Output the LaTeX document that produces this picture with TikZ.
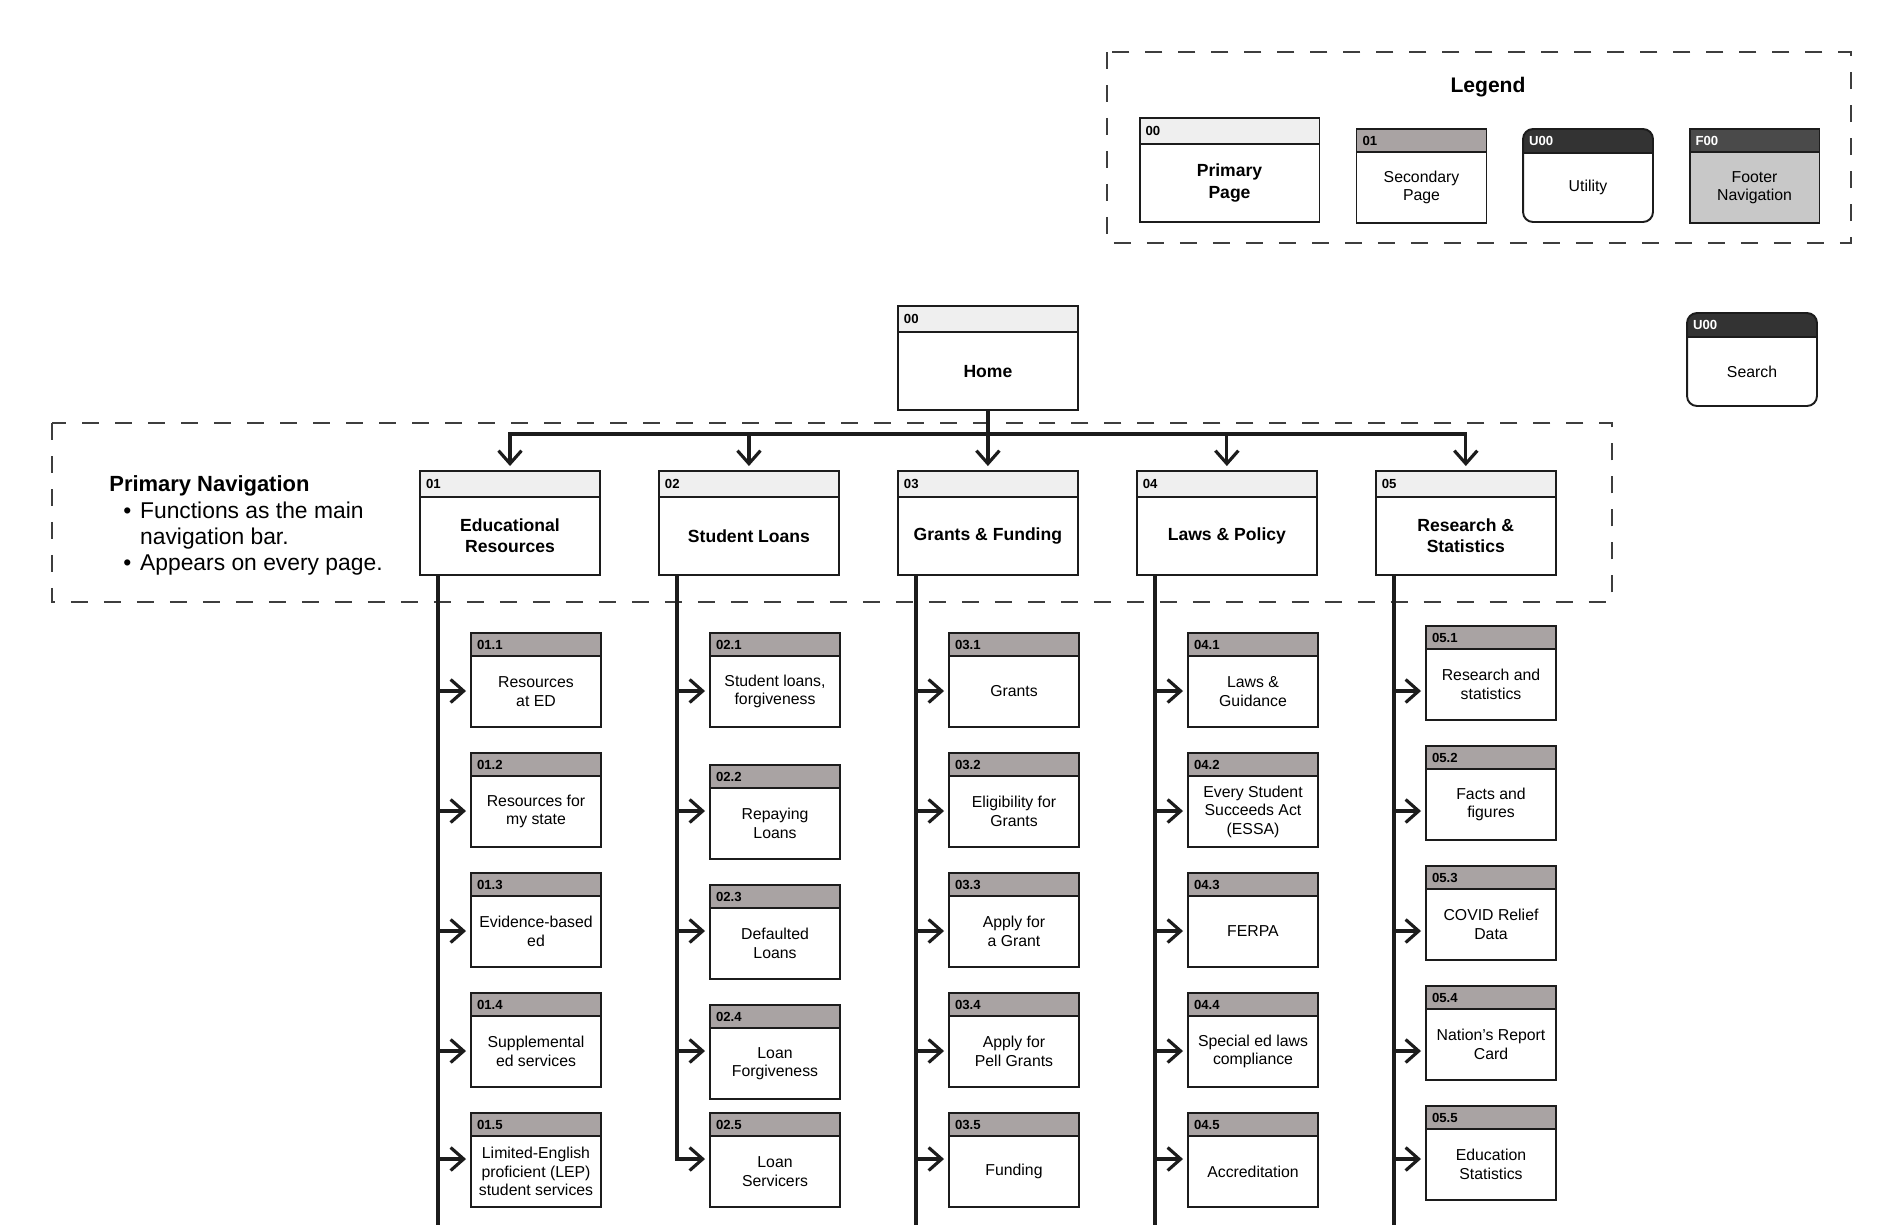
\documentclass[tikz,border=0pt]{standalone}
\usepackage{fontspec}
\setmainfont{Liberation Sans}
\usepackage{xcolor}
\usetikzlibrary{arrows.meta, positioning, backgrounds}

\definecolor{ink}{HTML}{1C1C1C}
\definecolor{hdrlight}{HTML}{EFEFEF}
\definecolor{hdrgray}{HTML}{A9A3A3}
\definecolor{hdrdark}{HTML}{333333}
\definecolor{footdark}{HTML}{4A4A4A}
\definecolor{footfill}{HTML}{C8C8C8}

\begin{document}
\begin{tikzpicture}[
    x=0.02cm, y=-0.02cm,
    primbox/.style={rectangle, draw=ink, fill=white, line width=1.1pt, outer sep=0pt, minimum width=3.6cm, minimum height=1.56cm, inner sep=2pt, align=center, font=\fontsize{10}{12}\selectfont\bfseries},
    primhdr/.style={rectangle, draw=ink, fill=hdrlight, line width=1.1pt, outer sep=0pt, minimum width=3.6cm, minimum height=0.52cm, inner xsep=0.12cm, inner ysep=0pt, text width=3.36cm, align=left, font=\fontsize{7.5}{9}\selectfont\bfseries},
    secbox/.style={rectangle, draw=ink, fill=white, line width=1.1pt, outer sep=0pt, minimum width=2.6cm, minimum height=1.42cm, inner sep=2pt, align=center, font=\fontsize{9}{10.5}\selectfont},
    sechdr/.style={primhdr, fill=hdrgray, minimum width=2.6cm, minimum height=0.46cm, text width=2.36cm},
    utilbody/.style={secbox, draw=none, minimum height=1.38cm},
    utilhdr/.style={sechdr, draw=none, fill=hdrdark, text=white, minimum height=0.48cm, rounded corners=0.2cm},
    utilline/.style={draw=ink, line width=1.1pt, rounded corners=0.2cm},
    footbox/.style={secbox, fill=footfill},
    foothdr/.style={sechdr, fill=footdark, text=white},
    conn/.style={draw=ink, line width=1.8pt},
    arr/.style={conn, -{Straight Barb[length=2.6mm, width=4.6mm]}, shorten >=0.1cm},
    frame/.style={draw=ink!85, line width=0.8pt, dash pattern=on 0.34cm off 0.32cm},
    legtitle/.style={font=\fontsize{12}{14}\selectfont\bfseries},
    navtitle/.style={inner sep=0pt, font=\fontsize{12.5}{15}\selectfont\bfseries},
    navtext/.style={inner sep=0pt, align=left, font=\fontsize{13}{14.6}\selectfont},
]
\useasboundingbox (0,0) rectangle (1899,1225);

% Legend
\draw[frame] (1107,52) rectangle (1851,243);
\node[legtitle] (legt) at (1488,87) {Legend};
\node[primbox] (lg-prim) at (1229.5,183) {Primary\\Page};
\node[primhdr, above=0pt of lg-prim] (lg-prim-h) {00};
\node[secbox] (lg-sec) at (1421.5,187.5) {Secondary\\Page};
\node[sechdr, above=0pt of lg-sec] (lg-sec-h) {01};
\node[utilbody] (lg-util) at (1588,187.5) {Utility};
\node[utilhdr, above=0pt of lg-util] (lg-util-h) {U00};
\draw[utilline] (lg-util-h.north west) rectangle (lg-util.south east);
\draw[ink, line width=1.1pt] (lg-util-h.south west) -- (lg-util-h.south east);
\node[footbox] (lg-foot) at (1754.5,187.5) {Footer\\Navigation};
\node[foothdr, above=0pt of lg-foot] (lg-foot-h) {F00};

% Search (utility)
\node[utilbody] (srch) at (1752,371.5) {Search};
\node[utilhdr, above=0pt of srch] (srch-h) {U00};
\draw[utilline] (srch-h.north west) rectangle (srch.south east);
\draw[ink, line width=1.1pt] (srch-h.south west) -- (srch-h.south east);

% square off the lower corners of the rounded headers
\begin{scope}[on background layer]
  \fill[hdrdark] (lg-util-h.west) rectangle (lg-util-h.south east);
  \fill[hdrdark] (srch-h.west) rectangle (srch-h.south east);
\end{scope}

% Primary navigation
\draw[frame] (52,423) rectangle (1612,602);
\node[navtitle, anchor=west] (navt) at (109,486) {Primary Navigation};
\node[navtext, anchor=north west] (navl) at (123,502) {\textbullet\hspace{5pt}Functions as the main\\\phantom{\textbullet}\hspace{5pt}navigation bar.\\\textbullet\hspace{5pt}Appears on every page.};

\node[primbox] (edu) at (510,536) {Educational\\Resources};
\node[primbox, right=1.18cm of edu] (sl) {Student Loans};
\node[primbox, right=1.18cm of sl] (gf) {Grants \& Funding};
\node[primbox, right=1.18cm of gf] (lp) {Laws \& Policy};
\node[primbox, right=1.18cm of lp] (rs) {Research \&\\Statistics};
\node[primhdr, above=0pt of edu] (edu-h) {01};
\node[primhdr, above=0pt of sl] (sl-h) {02};
\node[primhdr, above=0pt of gf] (gf-h) {03};
\node[primhdr, above=0pt of lp] (lp-h) {04};
\node[primhdr, above=0pt of rs] (rs-h) {05};

% Home
\node[primbox, above=1.22cm of gf-h] (home) {Home};
\node[primhdr, above=0pt of home] (home-h) {00};

% 01 Educational Resources
\node[secbox] (edu1) at (536,691.5) {Resources\\at ED};
\node[sechdr, above=0pt of edu1] (edu1-h) {01.1};
\node[secbox] (edu2) at (536,811.5) {Resources for\\my state};
\node[sechdr, above=0pt of edu2] (edu2-h) {01.2};
\node[secbox] (edu3) at (536,931.5) {Evidence-based\\ed};
\node[sechdr, above=0pt of edu3] (edu3-h) {01.3};
\node[secbox] (edu4) at (536,1051.5) {Supplemental\\ed services};
\node[sechdr, above=0pt of edu4] (edu4-h) {01.4};
\node[secbox] (edu5) at (536,1171.5) {Limited-English\\proficient (LEP)\\student services};
\node[sechdr, above=0pt of edu5] (edu5-h) {01.5};

% 02 Student Loans
\node[secbox] (sl1) at (775,691.5) {Student loans,\\forgiveness};
\node[sechdr, above=0pt of sl1] (sl1-h) {02.1};
\node[secbox] (sl2) at (775,823.5) {Repaying\\Loans};
\node[sechdr, above=0pt of sl2] (sl2-h) {02.2};
\node[secbox] (sl3) at (775,943.5) {Defaulted\\Loans};
\node[sechdr, above=0pt of sl3] (sl3-h) {02.3};
\node[secbox] (sl4) at (775,1063.5) {Loan\\Forgiveness};
\node[sechdr, above=0pt of sl4] (sl4-h) {02.4};
\node[secbox] (sl5) at (775,1171.5) {Loan\\Servicers};
\node[sechdr, above=0pt of sl5] (sl5-h) {02.5};

% 03 Grants & Funding
\node[secbox] (gf1) at (1014,691.5) {Grants};
\node[sechdr, above=0pt of gf1] (gf1-h) {03.1};
\node[secbox] (gf2) at (1014,811.5) {Eligibility for\\Grants};
\node[sechdr, above=0pt of gf2] (gf2-h) {03.2};
\node[secbox] (gf3) at (1014,931.5) {Apply for\\a Grant};
\node[sechdr, above=0pt of gf3] (gf3-h) {03.3};
\node[secbox] (gf4) at (1014,1051.5) {Apply for\\Pell Grants};
\node[sechdr, above=0pt of gf4] (gf4-h) {03.4};
\node[secbox] (gf5) at (1014,1171.5) {Funding};
\node[sechdr, above=0pt of gf5] (gf5-h) {03.5};

% 04 Laws & Policy
\node[secbox] (lp1) at (1253,691.5) {Laws \&\\Guidance};
\node[sechdr, above=0pt of lp1] (lp1-h) {04.1};
\node[secbox] (lp2) at (1253,811.5) {Every Student\\Succeeds Act\\(ESSA)};
\node[sechdr, above=0pt of lp2] (lp2-h) {04.2};
\node[secbox] (lp3) at (1253,931.5) {FERPA};
\node[sechdr, above=0pt of lp3] (lp3-h) {04.3};
\node[secbox] (lp4) at (1253,1051.5) {Special ed laws\\compliance};
\node[sechdr, above=0pt of lp4] (lp4-h) {04.4};
\node[secbox] (lp5) at (1253,1171.5) {Accreditation};
\node[sechdr, above=0pt of lp5] (lp5-h) {04.5};

% 05 Research & Statistics
\node[secbox] (rs1) at (1491,684.5) {Research and\\statistics};
\node[sechdr, above=0pt of rs1] (rs1-h) {05.1};
\node[secbox] (rs2) at (1491,804.5) {Facts and\\figures};
\node[sechdr, above=0pt of rs2] (rs2-h) {05.2};
\node[secbox] (rs3) at (1491,924.5) {COVID Relief\\Data};
\node[sechdr, above=0pt of rs3] (rs3-h) {05.3};
\node[secbox] (rs4) at (1491,1044.5) {Nation’s Report\\Card};
\node[sechdr, above=0pt of rs4] (rs4-h) {05.4};
\node[secbox] (rs5) at (1491,1164.5) {Education\\Statistics};
\node[sechdr, above=0pt of rs5] (rs5-h) {05.5};

% Rows and trunk ends
\coordinate (bus) at (0,434);
\coordinate (r1) at (0,691);
\coordinate (r2) at (0,811);
\coordinate (r3) at (0,931);
\coordinate (r4) at (0,1051);
\coordinate (edu-end) at (438,1225);
\coordinate (sl-end) at (677,1159);
\coordinate (gf-end) at (916,1225);
\coordinate (lp-end) at (1155,1225);
\coordinate (rs-end) at (1394,1225);

% Home to primary pages
\draw[conn] (home.south) -- (home.south |- bus);
\draw[conn, line cap=rect] (edu-h.north |- bus) -- (rs-h.north |- bus);
\draw[arr] (edu-h.north |- bus) -- (edu-h.north);
\draw[arr] (sl-h.north |- bus) -- (sl-h.north);
\draw[arr] (gf-h.north |- bus) -- (gf-h.north);
\draw[arr] (lp-h.north |- bus) -- (lp-h.north);
\draw[arr] (rs-h.north |- bus) -- (rs-h.north);

% Trunks
\draw[conn] (edu.south -| edu-end) -- (edu-end);
\draw[arr] (sl.south -| sl-end) -- (sl-end) -- (sl5.west |- sl-end);
\draw[conn] (gf.south -| gf-end) -- (gf-end);
\draw[conn] (lp.south -| lp-end) -- (lp-end);
\draw[conn] (rs.south -| rs-end) -- (rs-end);

% Primary to secondary pages
\draw[arr] (edu-end |- r1) -- (edu1.west |- r1);
\draw[arr] (edu-end |- r2) -- (edu2.west |- r2);
\draw[arr] (edu-end |- r3) -- (edu3.west |- r3);
\draw[arr] (edu-end |- r4) -- (edu4.west |- r4);
\draw[arr] (edu-end |- sl-end) -- (edu5.west |- sl-end);
\draw[arr] (sl-end |- r1) -- (sl1.west |- r1);
\draw[arr] (sl-end |- r2) -- (sl2.west |- r2);
\draw[arr] (sl-end |- r3) -- (sl3.west |- r3);
\draw[arr] (sl-end |- r4) -- (sl4.west |- r4);
\draw[arr] (gf-end |- r1) -- (gf1.west |- r1);
\draw[arr] (gf-end |- r2) -- (gf2.west |- r2);
\draw[arr] (gf-end |- r3) -- (gf3.west |- r3);
\draw[arr] (gf-end |- r4) -- (gf4.west |- r4);
\draw[arr] (gf-end |- sl-end) -- (gf5.west |- sl-end);
\draw[arr] (lp-end |- r1) -- (lp1.west |- r1);
\draw[arr] (lp-end |- r2) -- (lp2.west |- r2);
\draw[arr] (lp-end |- r3) -- (lp3.west |- r3);
\draw[arr] (lp-end |- r4) -- (lp4.west |- r4);
\draw[arr] (lp-end |- sl-end) -- (lp5.west |- sl-end);
\draw[arr] (rs-end |- r1) -- (rs1.west |- r1);
\draw[arr] (rs-end |- r2) -- (rs2.west |- r2);
\draw[arr] (rs-end |- r3) -- (rs3.west |- r3);
\draw[arr] (rs-end |- r4) -- (rs4.west |- r4);
\draw[arr] (rs-end |- sl-end) -- (rs5.west |- sl-end);

\end{tikzpicture}
\end{document}
